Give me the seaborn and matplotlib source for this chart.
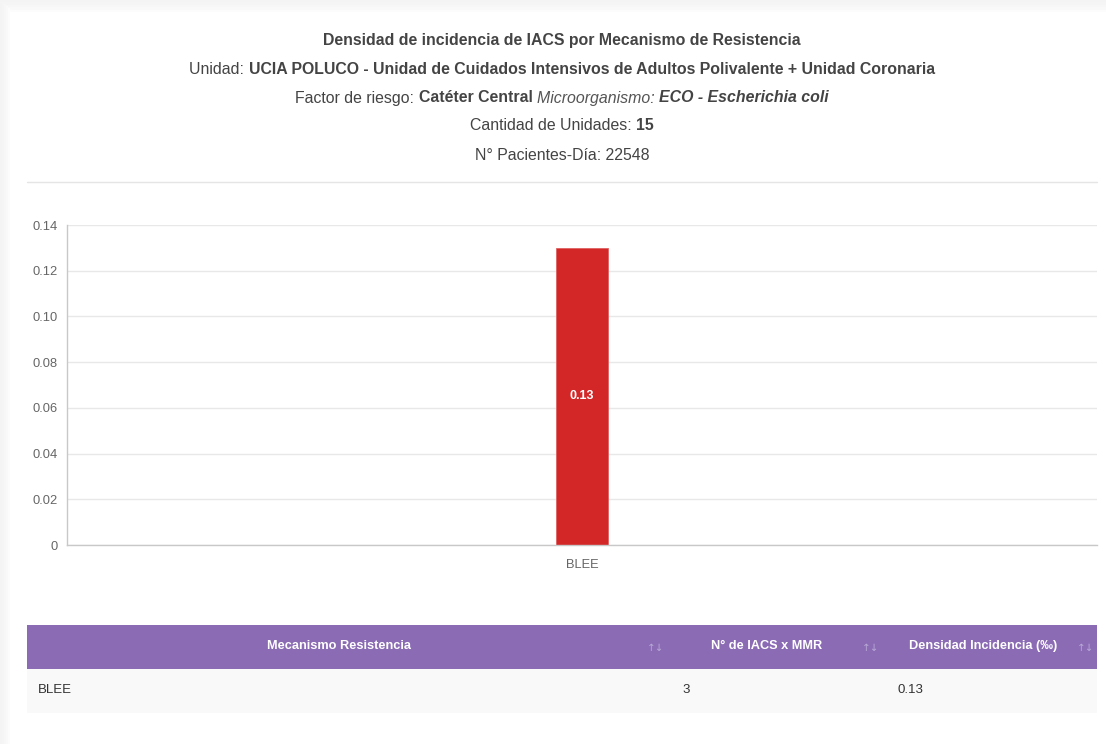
import matplotlib
matplotlib.use("Agg")
import matplotlib.pyplot as plt
import seaborn as sns
import pandas as pd
from matplotlib.patches import Rectangle

# ---- data ----
categories = ["BLEE"]
densidad = [0.13]
n_iacs = [3]
y_ticks = [0, 0.02, 0.04, 0.06, 0.08, 0.10, 0.12, 0.14]
y_tick_labels = ["0", "0.02", "0.04", "0.06", "0.08", "0.10", "0.12", "0.14"]
table_headers = ["Mecanismo Resistencia", "N° de IACS x MMR", "Densidad Incidencia (‰)"]

sns.set_theme(style="white")
plt.rcParams["font.family"] = ["Liberation Sans", "DejaVu Sans"]

W, H = 1106, 744
fig = plt.figure(figsize=(W / 100, H / 100), dpi=100, facecolor="white")

def fx(px):
    return px / W

def fy(py):
    return 1 - py / H

# card shadow edges (soft gradient, margins only)
shades = ["#f4f4f4", "#f5f5f5", "#f7f7f7", "#f9f9f9", "#fcfcfc"]
for i, c in enumerate(shades):
    fig.patches.append(Rectangle((fx(2 * i), 0), fx(2), fy(2 * i),
                                 transform=fig.transFigure, facecolor=c, edgecolor="none", zorder=-5))
    fig.patches.append(Rectangle((fx(2 * i), fy(2.4 * i + 2.4)), 1, 2.4 / H, transform=fig.transFigure,
                                 facecolor=c, edgecolor="none", zorder=-5))

# ---- header texts with mixed styles ----
renderer = fig.canvas.get_renderer()

def mixed_line(y_px, segments, size=11.4):
    texts = []
    widths = []
    for s, weight, style, color in segments:
        t = fig.text(0, fy(y_px), s, fontsize=size, fontweight=weight, fontstyle=style,
                     color=color, va="center", ha="left")
        texts.append(t)
        widths.append(t.get_window_extent(renderer=renderer).width)
    total = sum(widths)
    x = 562 - total / 2
    for t, w in zip(texts, widths):
        t.set_x(fx(x))
        x += w

dark = "#333333"
mid = "#444444"
mixed_line(40, [("Densidad de incidencia de IACS por Mecanismo de Resistencia", "bold", "normal", mid)])
mixed_line(69, [("Unidad: ", "normal", "normal", mid),
                ("UCIA POLUCO - Unidad de Cuidados Intensivos de Adultos Polivalente + Unidad Coronaria", "bold", "normal", mid)])
mixed_line(98, [("Factor de riesgo: ", "normal", "normal", mid),
                ("Catéter Central ", "bold", "normal", mid),
                ("Microorganismo: ", "normal", "italic", "#555555"),
                ("ECO - Escherichia coli", "bold", "italic", mid)])
mixed_line(126, [("Cantidad de Unidades: ", "normal", "normal", mid),
                 ("15", "bold", "normal", mid)])
mixed_line(155, [("N° Pacientes-Día: 22548", "normal", "normal", mid)])

# separator
fig.add_artist(plt.Line2D([fx(27), fx(1097)], [fy(182), fy(182)], color="#e5e5e5", lw=1))

# ---- bar chart ----
ax = fig.add_axes([fx(67), fy(545), fx(1097) - fx(67), fy(225) - fy(545)])
ax.set_zorder(5)
ax.patch.set_alpha(0)
df = pd.DataFrame({"cat": categories, "val": densidad})
sns.barplot(data=df, x="cat", y="val", ax=ax, color="#d32626", width=0.05,
            saturation=1, edgecolor="#e06060", linewidth=0.6)
ax.set_xlim(-0.5, 0.5)
ax.set_ylim(0, 0.14)
ax.set_yticks(y_ticks)
ax.set_yticklabels(y_tick_labels)
ax.set_xlabel("")
ax.set_ylabel("")
ax.grid(axis="y", color="#e8e8e8", lw=1)
ax.set_axisbelow(True)
for s in ["top", "right"]:
    ax.spines[s].set_visible(False)
for s in ["left", "bottom"]:
    ax.spines[s].set_color("#c8c8c8")
    ax.spines[s].set_linewidth(1)
ax.tick_params(axis="y", length=5, color="#e0e0e0", labelsize=9.3, labelcolor="#666666", pad=2)
ax.tick_params(axis="x", which="major", length=0, labelsize=9.3, labelcolor="#666666", pad=10)
ax.set_xticks([-0.5, 0.5], minor=True)
ax.tick_params(axis="x", which="minor", length=7, color="#c8c8c8")
for p, v in zip(ax.patches, densidad):
    ax.text(p.get_x() + p.get_width() / 2, v / 2, f"{v:.2f}", ha="center", va="center",
            color="white", fontsize=9, fontweight="bold")

# ---- table ----
fig.patches.append(Rectangle((fx(27), fy(669)), fx(1097) - fx(27), fy(625) - fy(669),
                             transform=fig.transFigure, facecolor="#8a6bb4", edgecolor="none"))
fig.patches.append(Rectangle((fx(27), fy(713)), fx(1097) - fx(27), fy(669) - fy(713),
                             transform=fig.transFigure, facecolor="#f9f9f9", edgecolor="none"))
header_x = [339, 767, 983]
sort_x = [656, 871, 1086]
for hx, sx, h in zip(header_x, sort_x, table_headers):
    fig.text(fx(hx), fy(646), h, ha="center", va="center", color="white", fontsize=9.2,
             fontweight="bold")
    fig.text(fx(sx), fy(648), "↑↓", ha="center", va="center", color="#b9a8d6", fontsize=7.5,
             family="DejaVu Sans")
for i, (c, n, d) in enumerate(zip(categories, n_iacs, densidad)):
    yy = 690 + i * 44
    fig.text(fx(38), fy(yy), c, ha="left", va="center", color=dark, fontsize=9.5)
    fig.text(fx(682), fy(yy), str(n), ha="left", va="center", color=dark, fontsize=9.5)
    fig.text(fx(898), fy(yy), f"{d:.2f}", ha="left", va="center", color=dark, fontsize=9.5)

fig.savefig("out.png", dpi=100, facecolor="white")
